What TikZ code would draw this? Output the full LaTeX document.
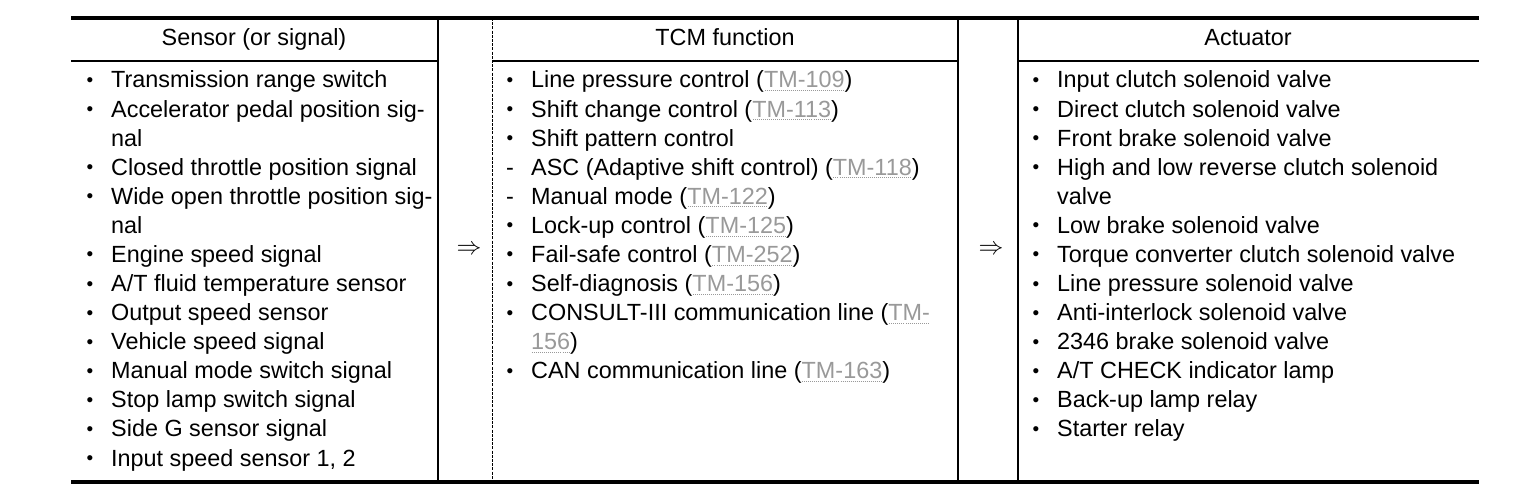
\documentclass[tikz,border=0pt]{standalone}
\usepackage{fontspec}
\setmainfont{Liberation Sans}
\newcommand\bul{\makebox[30pt][l]{\hspace{5.5pt}\raisebox{1.5pt}{\fontsize{19}{19}\selectfont •}}}
\newcommand\dsh{\makebox[30pt][l]{\hspace{5pt}-}}
\newcommand\ind{\makebox[30pt]{}}
\newsavebox\lnkbox
\newcommand\lnk[1]{\textcolor{black!40}{\sbox\lnkbox{#1}\rlap{\raisebox{-3pt}{\hbox to \wd\lnkbox{\xleaders\hbox to 2pt{\hss\vrule width 1pt height 0.9pt\hss}\hfill}}}\usebox\lnkbox}}
\begin{document}
\begin{tikzpicture}[x=1pt,y=-1pt,
  txt/.style={anchor=base west, inner sep=0pt, font=\fontsize{23.4}{29}\selectfont},
  hdr/.style={anchor=base, inner sep=0pt, font=\fontsize{23.4}{29}\selectfont},
  arr/.style={anchor=center, inner sep=0pt, font=\fontsize{23}{23}\selectfont},
  heavyrule/.style={line width=3.6pt},
  thinrule/.style={line width=1.3pt},
  dashrule/.style={line width=0.9pt, dash pattern=on 3pt off 1.2pt}]
\useasboundingbox (0,0) rectangle (1536,500);
% rules
\draw[heavyrule] (71,18) -- (1479,18);
\draw[heavyrule] (71,482) -- (1479,482);
\draw[thinrule] (71,61) -- (438,61);
\draw[thinrule] (492,61) -- (958,61);
\draw[thinrule] (1018,61) -- (1479,61);
\draw[thinrule] (438,18) -- (438,482);
\draw[dashrule] (492,18) -- (492,482);
\draw[thinrule] (958,18) -- (958,482);
\draw[thinrule] (1018,18) -- (1018,482);
% headers
\node[hdr] (h1) at (254,46) {Sensor (or signal)};
\node[hdr] (h2) at (725,46) {TCM function};
\node[hdr] (h3) at (1248,46) {Actuator};
% arrows
\node[arr] (a1) at (469,250) {$\Rightarrow$};
\node[arr] (a2) at (991,250) {$\Rightarrow$};
% left column
\foreach \t [count=\i] in {
  {\bul Transmission range switch},
  {\bul Accelerator pedal position sig-},
  {\ind nal},
  {\bul Closed throttle position signal},
  {\bul Wide open throttle position sig-},
  {\ind nal},
  {\bul Engine speed signal},
  {\bul A/T fluid temperature sensor},
  {\bul Output speed sensor},
  {\bul Vehicle speed signal},
  {\bul Manual mode switch signal},
  {\bul Stop lamp switch signal},
  {\bul Side G sensor signal},
  {\bul Input speed sensor 1, 2}}
  \node[txt] (s\i) at (81,{88+29.08*(\i-1)}) {\t};
% middle column
\foreach \t [count=\i] in {
  {\bul Line pressure control (\lnk{TM-109})},
  {\bul Shift change control (\lnk{TM-113})},
  {\bul Shift pattern control},
  {\dsh ASC (Adaptive shift control) (\lnk{TM-118})},
  {\dsh Manual mode (\lnk{TM-122})},
  {\bul Lock-up control (\lnk{TM-125})},
  {\bul Fail-safe control (\lnk{TM-252})},
  {\bul Self-diagnosis (\lnk{TM-156})},
  {\bul CONSULT-III communication line (\lnk{TM-}},
  {\ind \lnk{156})},
  {\bul CAN communication line (\lnk{TM-163})}}
  \node[txt] (f\i) at (501,{88+29.08*(\i-1)}) {\t};
% right column
\foreach \t [count=\i] in {
  {\bul Input clutch solenoid valve},
  {\bul Direct clutch solenoid valve},
  {\bul Front brake solenoid valve},
  {\bul High and low reverse clutch solenoid},
  {\ind valve},
  {\bul Low brake solenoid valve},
  {\bul Torque converter clutch solenoid valve},
  {\bul Line pressure solenoid valve},
  {\bul Anti-interlock solenoid valve},
  {\bul 2346 brake solenoid valve},
  {\bul A/T CHECK indicator lamp},
  {\bul Back-up lamp relay},
  {\bul Starter relay}}
  \node[txt] (c\i) at (1027,{88+29.08*(\i-1)}) {\t};
\end{tikzpicture}
\end{document}
